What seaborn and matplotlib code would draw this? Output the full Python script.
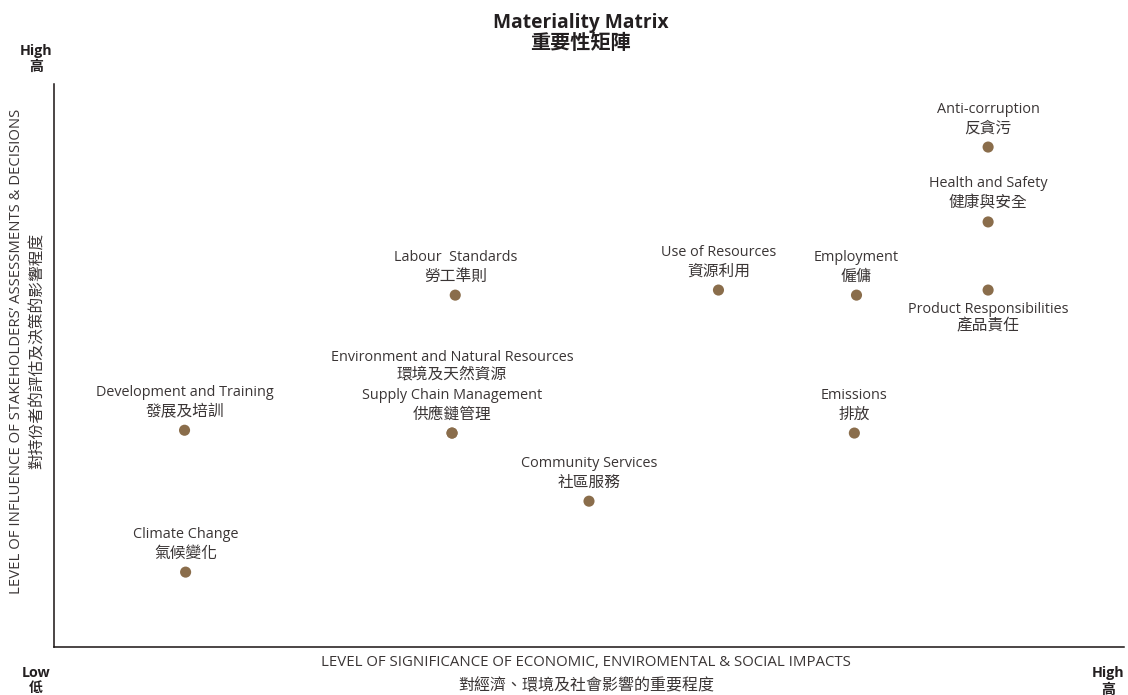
import matplotlib
matplotlib.use("Agg")
import matplotlib.pyplot as plt
import seaborn as sns
import pandas as pd

# topic data (scores on 0-100 scale)
topics_en = ['Anti-corruption', 'Health and Safety', 'Product Responsibilities', 'Employment',
             'Use of Resources', 'Labour  Standards', 'Environment and Natural Resources',
             'Supply Chain Management', 'Development and Training', 'Emissions',
             'Community Services', 'Climate Change']
topics_zh = ['反貪污', '健康與安全', '產品責任', '僱傭', '資源利用', '勞工準則', '環境及天然資源',
             '供應鏈管理', '發展及培訓', '排放', '社區服務', '氣候變化']
significance = [87.3, 87.3, 87.3, 75.0, 62.1, 37.5, 37.2, 37.2, 12.2, 74.8, 50.0, 12.3]
influence = [88.8, 75.5, 63.4, 62.5, 63.4, 62.5, 38.0, 38.0, 38.5, 38.0, 25.9, 13.3]
label_pos = ['above', 'above', 'below', 'above', 'above', 'above', 'above2',
             'above', 'above', 'above', 'above', 'above']

df = pd.DataFrame({'x': significance, 'y': influence, 'en': topics_en, 'zh': topics_zh, 'pos': label_pos})

sns.set_style('white')
plt.rcParams['font.family'] = ['Open Sans', 'Noto Sans CJK TC', 'DejaVu Sans']

txt = '#3a3535'
dot = '#8a6d4b'

fig = plt.figure(figsize=(11.28, 6.95), dpi=100)
ax = fig.add_axes([54 / 1128, 48 / 695, 1070 / 1128, 563 / 695])

sns.scatterplot(data=df, x='x', y='y', ax=ax, color=dot, s=64, edgecolor='none', zorder=3)

offsets = {'above': (27.4, 13.2), 'below': (-13.7, -26.2), 'above2': (54.7, 42.3)}
for _, r in df.iterrows():
    oe, oz = offsets[r['pos']]
    ax.annotate(r['en'], (r['x'], r['y']), xytext=(0, oe), textcoords='offset points',
                ha='center', va='center', fontsize=10.4, color=txt)
    ax.annotate(r['zh'], (r['x'], r['y']), xytext=(0, oz), textcoords='offset points',
                ha='center', va='center', fontsize=11.3, color=txt, fontweight='light')

ax.set_xlim(0, 100)
ax.set_ylim(0, 100)
ax.set_xticks([])
ax.set_yticks([])
ax.set_xlabel('')
ax.set_ylabel('')
for s in ['top', 'right']:
    ax.spines[s].set_visible(False)
for s in ['left', 'bottom']:
    ax.spines[s].set_color('#1a1414')
    ax.spines[s].set_linewidth(1.1)

# titles and axis captions
fig.text(581 / 1128, 1 - 23 / 695, 'Materiality Matrix', ha='center', va='center',
         fontsize=13.8, fontweight='bold', color='#231f20')
fig.text(580 / 1128, 1 - 44 / 695, '重要性矩陣', ha='center', va='center',
         fontsize=14.5, fontweight='bold', color='#231f20')

fig.text(586 / 1128, 1 - 662 / 695, 'LEVEL OF SIGNIFICANCE OF ECONOMIC, ENVIROMENTAL & SOCIAL IMPACTS',
         ha='center', va='center', fontsize=10.8, color=txt)
fig.text(586 / 1128, 1 - 686 / 695, '對經濟、環境及社會影響的重要程度',
         ha='center', va='center', fontsize=11.5, color=txt, fontweight='light')

fig.text(17 / 1128, 1 - 351 / 695, 'LEVEL OF INFLUENCE OF STAKEHOLDERS\u2019 ASSESSMENTS & DECISIONS',
         ha='center', va='center', rotation=90, fontsize=10.7, color=txt)
fig.text(38 / 1128, 1 - 351 / 695, '對持份者的評估及決策的影響程度',
         ha='center', va='center', rotation=90, fontsize=11.3, color=txt, fontweight='light')

for x, y1, y2, a, b in [(36, 51, 67, 'High', '高'), (36, 673, 688, 'Low', '低'), (1108, 673, 690, 'High', '高')]:
    fig.text(x / 1128, 1 - y1 / 695, a, ha='center', va='center', fontsize=10.3, fontweight='bold', color='#231f20')
    fig.text(x / 1128, 1 - y2 / 695, b, ha='center', va='center', fontsize=10, fontweight='bold', color='#231f20')

fig.savefig('out.png', dpi=100)
